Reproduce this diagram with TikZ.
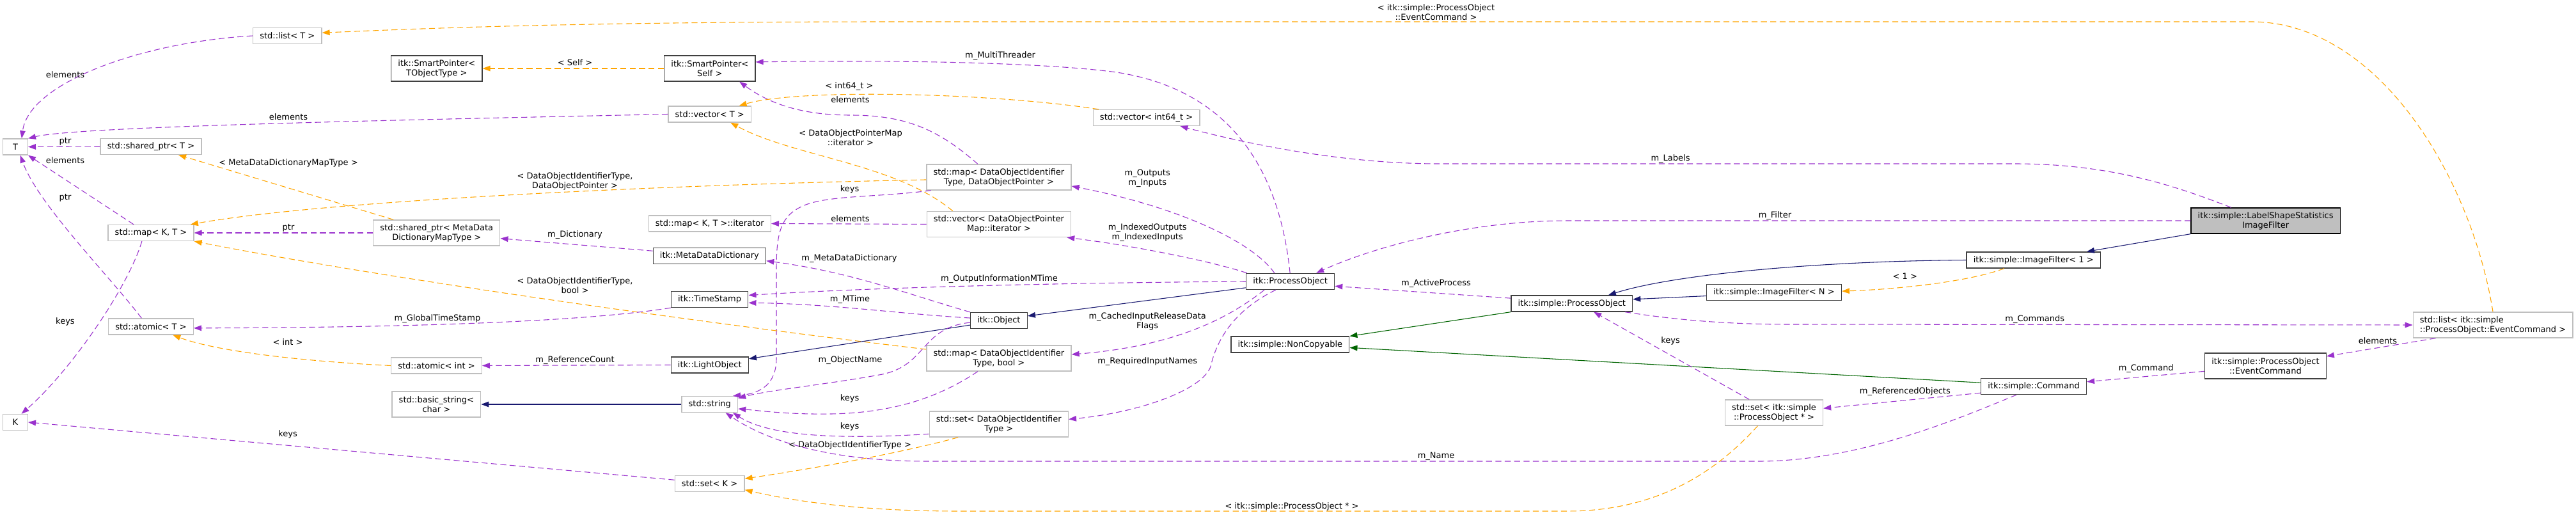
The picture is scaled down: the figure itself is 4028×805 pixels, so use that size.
\documentclass[tikz,border=0pt]{standalone}
\usepackage{fontspec}
\setmainfont{DejaVu Sans}
\usetikzlibrary{arrows.meta}
\definecolor{usecol}{HTML}{9A32CD}
\definecolor{tplcol}{HTML}{FFA500}
\definecolor{inhcol}{HTML}{191970}
\definecolor{prvcol}{HTML}{006400}
\definecolor{undoc}{HTML}{BFBFBF}
\definecolor{docb}{HTML}{404040}

\begin{document}
\begin{tikzpicture}[x=0.75pt, y=-0.75pt,
    every node/.style={font=\fontsize{9.75}{11.25}\selectfont, inner sep=0pt},
    box/.style={draw=undoc, line width=1pt, fill=white, inner xsep=8pt, inner ysep=2pt, minimum height=18.75pt, align=center},
    dbox/.style={box, draw=docb},
    two/.style={minimum height=30pt},
    lbl/.style={align=center},
    usage/.style={draw=usecol, line width=0.8pt, dash pattern=on 7pt off 4pt, -{Triangle[length=9pt,width=6.5pt]}},
    tmpl/.style={usage, draw=tplcol},
    inh/.style={draw=inhcol, line width=0.8pt, -{Triangle[length=9pt,width=6.5pt]}},
    prv/.style={inh, draw=prvcol}]
    \useasboundingbox (0,0) rectangle (4028,805);

    \node[box, minimum width=29pt] (T) at (24,229.5) {T};
    \node[box, minimum width=29pt] (K) at (24,660) {K};
    \node[box] (lstT) at (449.3,56) {std::list< T >};
    \node[dbox,two] (spTO) at (682.8,107) {itk::SmartPointer<\\TObjectType >};
    \node[box] (shpT) at (236,229) {std::shared\_ptr< T >};
    \node[box] (mapKT) at (236,364) {std::map< K, T >};
    \node[box] (atomT) at (236,510.5) {std::atomic< T >};
    \node[box,two] (shpMD) at (682.8,364) {std::shared\_ptr< MetaData\\DictionaryMapType >};
    \node[box] (atomInt) at (682.5,571.5) {std::atomic< int >};
    \node[box,two] (bstr) at (682.4,632) {std::basic\_string<\\char >};
    \node[dbox,two] (spSelf) at (1109.8,107) {itk::SmartPointer<\\Self >};
    \node[box] (vecT) at (1109.7,178.5) {std::vector< T >};
    \node[box] (mapIt) at (1109.8,349.5) {std::map< K, T >::iterator};
    \node[dbox] (mdd) at (1109.4,400) {itk::MetaDataDictionary};
    \node[dbox] (tstamp) at (1109.6,468) {itk::TimeStamp};
    \node[dbox] (lobj) at (1109.8,570.5) {itk::LightObject};
    \node[box] (str) at (1109.8,632) {std::string};
    \node[box] (setK) at (1109.6,756) {std::set< K >};
    \node[box] (vecInt) at (1792.6,184) {std::vector< int64\_t >};
    \node[box,two] (mapDOP) at (1561.9,277) {std::map< DataObjectIdentifier\\Type, DataObjectPointer >};
    \node[box,two] (vecDOPM) at (1561.9,350.5) {std::vector< DataObjectPointer\\Map::iterator >};
    \node[dbox] (obj) at (1561.9,501) {itk::Object};
    \node[box,two] (mapBool) at (1561.9,560) {std::map< DataObjectIdentifier\\Type, bool >};
    \node[box,two] (setDOI) at (1561.8,663) {std::set< DataObjectIdentifier\\Type >};
    \node[dbox] (po) at (2017.6,440) {itk::ProcessObject};
    \node[dbox] (nc) at (2017.4,538.5) {itk::simple::NonCopyable};
    \node[dbox] (spo) at (2457.8,474.5) {itk::simple::ProcessObject};
    \node[dbox] (ifN) at (2774,457) {itk::simple::ImageFilter< N >};
    \node[box,two] (setPO) at (2774,645) {std::set< itk::simple\\::ProcessObject * >};
    \node[dbox] (if1) at (3179.7,406.5) {itk::simple::ImageFilter< 1 >};
    \node[dbox] (cmd) at (3180,604) {itk::simple::Command};
    \node[dbox,two,draw=black,fill=undoc] (lss) at (3542.6,345) {itk::simple::LabelShapeStatistics\\ImageFilter};
    \node[dbox,two] (evc) at (3542.4,572) {itk::simple::ProcessObject\\::EventCommand};
    \node[box,two,align=left] (lstEC) at (3898,508) {std::list< itk::simple\\::ProcessObject::EventCommand >};

    \draw[usage] (lstT.west) .. controls (220,66) and (45,130) .. (T.53);
    \draw[usage] (vecT.west) .. controls (600,188) and (120,198) .. (T.north east);
    \draw[usage] (shpT.west) -- (T.east);
    \draw[usage] (mapKT.154) -- (T.south east);
    \draw[usage] (atomT.138) .. controls (170,430) and (60,320) .. (T.-60);
    \draw[usage] (mapKT.-137) .. controls (200,450) and (110,580) .. (K.54);
    \draw[usage] (setK.174) -- (K.east);
    \draw[tmpl] (lstEC.north) .. controls (3865,280) and (3720,34) .. (3520,34) -- (1400,34) .. controls (900,34) and (650,45) .. (lstT.5);
    \draw[tmpl] (spSelf.west) -- (spTO.east);
    \draw[usage] (po.92) .. controls (2000,260) and (1920,140) .. (1746,113) .. controls (1650,100) and (1450,93) .. (spSelf.8);
    \draw[tmpl] (vecInt.170) .. controls (1550,145) and (1250,138) .. (vecT.16);
    \draw[usage] (mapDOP.148) .. controls (1470,205) and (1420,180) .. (1330,180) .. controls (1250,180) and (1200,160) .. (spSelf.-24);
    \draw[tmpl] (vecDOPM.164) .. controls (1400,255) and (1240,245) .. (vecT.-22);
    \draw[tmpl] (mapDOP.182) .. controls (1000,290) and (500,315) .. (mapKT.12);
    \draw[usage] (mapDOP.191) .. controls (1380,308) and (1300,305) .. (1260,320) .. controls (1222,335) and (1214,360) .. (1214,420) -- (1214,560) .. controls (1214,600) and (1190,615) .. (str.20);
    \draw[usage] (vecDOPM.west) -- (mapIt.east);
    \draw[tmpl] (shpMD.163) -- (shpT.-17);
    \draw[usage] (shpMD.west) -- (mapKT.east);
    \draw[usage] (mdd.175) -- (shpMD.-5);
    \draw[tmpl] (mapBool.173) .. controls (1100,505) and (600,435) .. (mapKT.south east);
    \draw[usage] (obj.north west) .. controls (1420,460) and (1330,425) .. (mdd.-5);
    \draw[usage] (po.west) .. controls (1650,442) and (1350,450) .. (tstamp.6);
    \draw[usage] (obj.175) .. controls (1400,490) and (1300,475) .. (tstamp.-5);
    \draw[usage] (tstamp.south west) .. controls (900,505) and (600,512) .. (atomT.-2);
    \draw[tmpl] (atomInt.west) .. controls (480,565) and (340,550) .. (atomT.-21);
    \draw[usage] (lobj.west) -- (atomInt.east);
    \draw[inh] (obj.189) -- (lobj.9);
    \draw[inh] (po.188) -- (obj.9);
    \draw[inh] (str.west) -- (bstr.east);
    \draw[usage] (obj.184) .. controls (1440,512) and (1450,570) .. (1380,585) .. controls (1300,600) and (1200,610) .. (str.12);
    \draw[usage] (mapBool.212) .. controls (1470,620) and (1400,645) .. (1300,647) .. controls (1230,648) and (1190,642) .. (str.-9);
    \draw[usage] (setDOI.188) .. controls (1300,688) and (1200,680) .. (str.-20);
    \draw[usage] (cmd.206) .. controls (3050,660) and (2900,721) .. (2750,721) -- (1450,721) .. controls (1300,721) and (1200,690) .. (str.-28);
    \draw[tmpl] (setDOI.198) .. controls (1420,705) and (1300,728) .. (setK.8);
    \draw[tmpl] (setPO.219) .. controls (2690,730) and (2600,799) .. (2450,799) -- (1500,799) .. controls (1350,799) and (1250,785) .. (setK.-10);
    \draw[usage] (po.152) .. controls (1960,380) and (1850,325) .. (mapDOP.-7);
    \draw[usage] (po.169) .. controls (1900,410) and (1780,385) .. (vecDOPM.-11);
    \draw[usage] (po.198) .. controls (1930,490) and (1850,540) .. (mapBool.3);
    \draw[usage] (po.210) .. controls (1940,480) and (1905,520) .. (1893,573) .. controls (1880,610) and (1780,645) .. (setDOI.4);
    \draw[usage] (lss.159) .. controls (3400,290) and (3300,256) .. (3150,256) -- (2250,256) .. controls (2100,256) and (1950,225) .. (vecInt.-14);
    \draw[usage] (lss.west) -- (2450,345) .. controls (2300,345) and (2150,385) .. (po.18);
    \draw[usage] (spo.175) -- (po.-6);
    \draw[prv] (spo.south west) -- (nc.8);
    \draw[prv] (cmd.176) -- (nc.-3);
    \draw[inh] (if1.west) .. controls (2850,408) and (2620,428) .. (spo.13);
    \draw[inh] (ifN.183) -- (spo.4);
    \draw[tmpl] (if1.196) .. controls (3080,440) and (2970,452) .. (ifN.1);
    \draw[inh] (lss.south west) -- (if1.9);
    \draw[usage] (spo.-9) .. controls (2620,500) and (2700,507) .. (2800,507) -- (lstEC.west);
    \draw[usage] (setPO.152) -- (spo.-21);
    \draw[usage] (cmd.187) -- (setPO.5);
    \draw[usage] (evc.185) -- (cmd.5);
    \draw[usage] (lstEC.193) -- (evc.9);

    \node[lbl] (lElemList) at (102,117) {elements};
    \node[lbl] (lElemVec) at (451,183) {elements};
    \node[lbl] (lPtrShared) at (102,221) {ptr};
    \node[lbl] (lElemMap) at (102,251) {elements};
    \node[lbl] (lPtrAtomic) at (102,309) {ptr};
    \node[lbl] (lKeysMap) at (102,503) {keys};
    \node[lbl] (lKeysSet) at (450,679) {keys};
    \node[lbl] (lEventCmd) at (2245.5,19) {< itk::simple::ProcessObject\\::EventCommand >};
    \node[lbl] (lSelf) at (899,98) {< Self >};
    \node[lbl] (lThreader) at (1564,87) {m\_MultiThreader};
    \node[lbl] (lInt64) at (1328,135) {< int64\_t >};
    \node[lbl] (lElemSP) at (1329.5,156) {elements};
    \node[lbl] (lPtrMapIt) at (1330,215) {< DataObjectPointerMap\\::iterator >};
    \node[lbl] (lIdPtr) at (899,283) {< DataObjectIdentifierType,\\DataObjectPointer >};
    \node[lbl] (lKeysDOP) at (1328.6,296) {keys};
    \node[lbl] (lElemIt) at (1329.5,342) {elements};
    \node[lbl] (lMapType) at (451,255) {< MetaDataDictionaryMapType >};
    \node[lbl] (lPtrMD) at (451,356) {ptr};
    \node[lbl] (lDict) at (899,367) {m\_Dictionary};
    \node[lbl] (lIdBool) at (899,446) {< DataObjectIdentifierType,\\bool >};
    \node[lbl] (lMDD) at (1328,404) {m\_MetaDataDictionary};
    \node[lbl] (lOutInfo) at (1562.5,436) {m\_OutputInformationMTime};
    \node[lbl] (lMTime) at (1329,468) {m\_MTime};
    \node[lbl] (lGlobal) at (684,498) {m\_GlobalTimeStamp};
    \node[lbl] (lInt) at (450,535) {< int >};
    \node[lbl] (lRefCount) at (899,563) {m\_ReferenceCount};
    \node[lbl] (lObjName) at (1329.5,563) {m\_ObjectName};
    \node[lbl] (lKeysBool) at (1328.6,623) {keys};
    \node[lbl] (lKeysDOI) at (1328.6,667) {keys};
    \node[lbl] (lName) at (2245.5,713) {m\_Name};
    \node[lbl] (lIdType) at (1329,696) {< DataObjectIdentifierType >};
    \node[lbl] (lPOStar) at (2020,792) {< itk::simple::ProcessObject * >};
    \node[lbl] (lInOut) at (1794.2,279) {m\_Outputs\\m\_Inputs};
    \node[lbl] (lIndexed) at (1794.2,364) {m\_IndexedOutputs\\m\_IndexedInputs};
    \node[lbl] (lCached) at (1794.2,502) {m\_CachedInputReleaseData\\Flags};
    \node[lbl] (lRequired) at (1794.2,565) {m\_RequiredInputNames};
    \node[lbl] (lLabels) at (2612,248) {m\_Labels};
    \node[lbl] (lFilter) at (2775.4,337) {m\_Filter};
    \node[lbl] (lActive) at (2245.5,443) {m\_ActiveProcess};
    \node[lbl] (lOne) at (2978.8,432) {< 1 >};
    \node[lbl] (lCommands) at (3181.8,499) {m\_Commands};
    \node[lbl] (lKeysPO) at (2612,533) {keys};
    \node[lbl] (lRefObj) at (2978.8,612) {m\_ReferencedObjects};
    \node[lbl] (lCommand) at (3355.7,576) {m\_Command};
    \node[lbl] (lElemEC) at (3717.9,533) {elements};
\end{tikzpicture}
\end{document}
